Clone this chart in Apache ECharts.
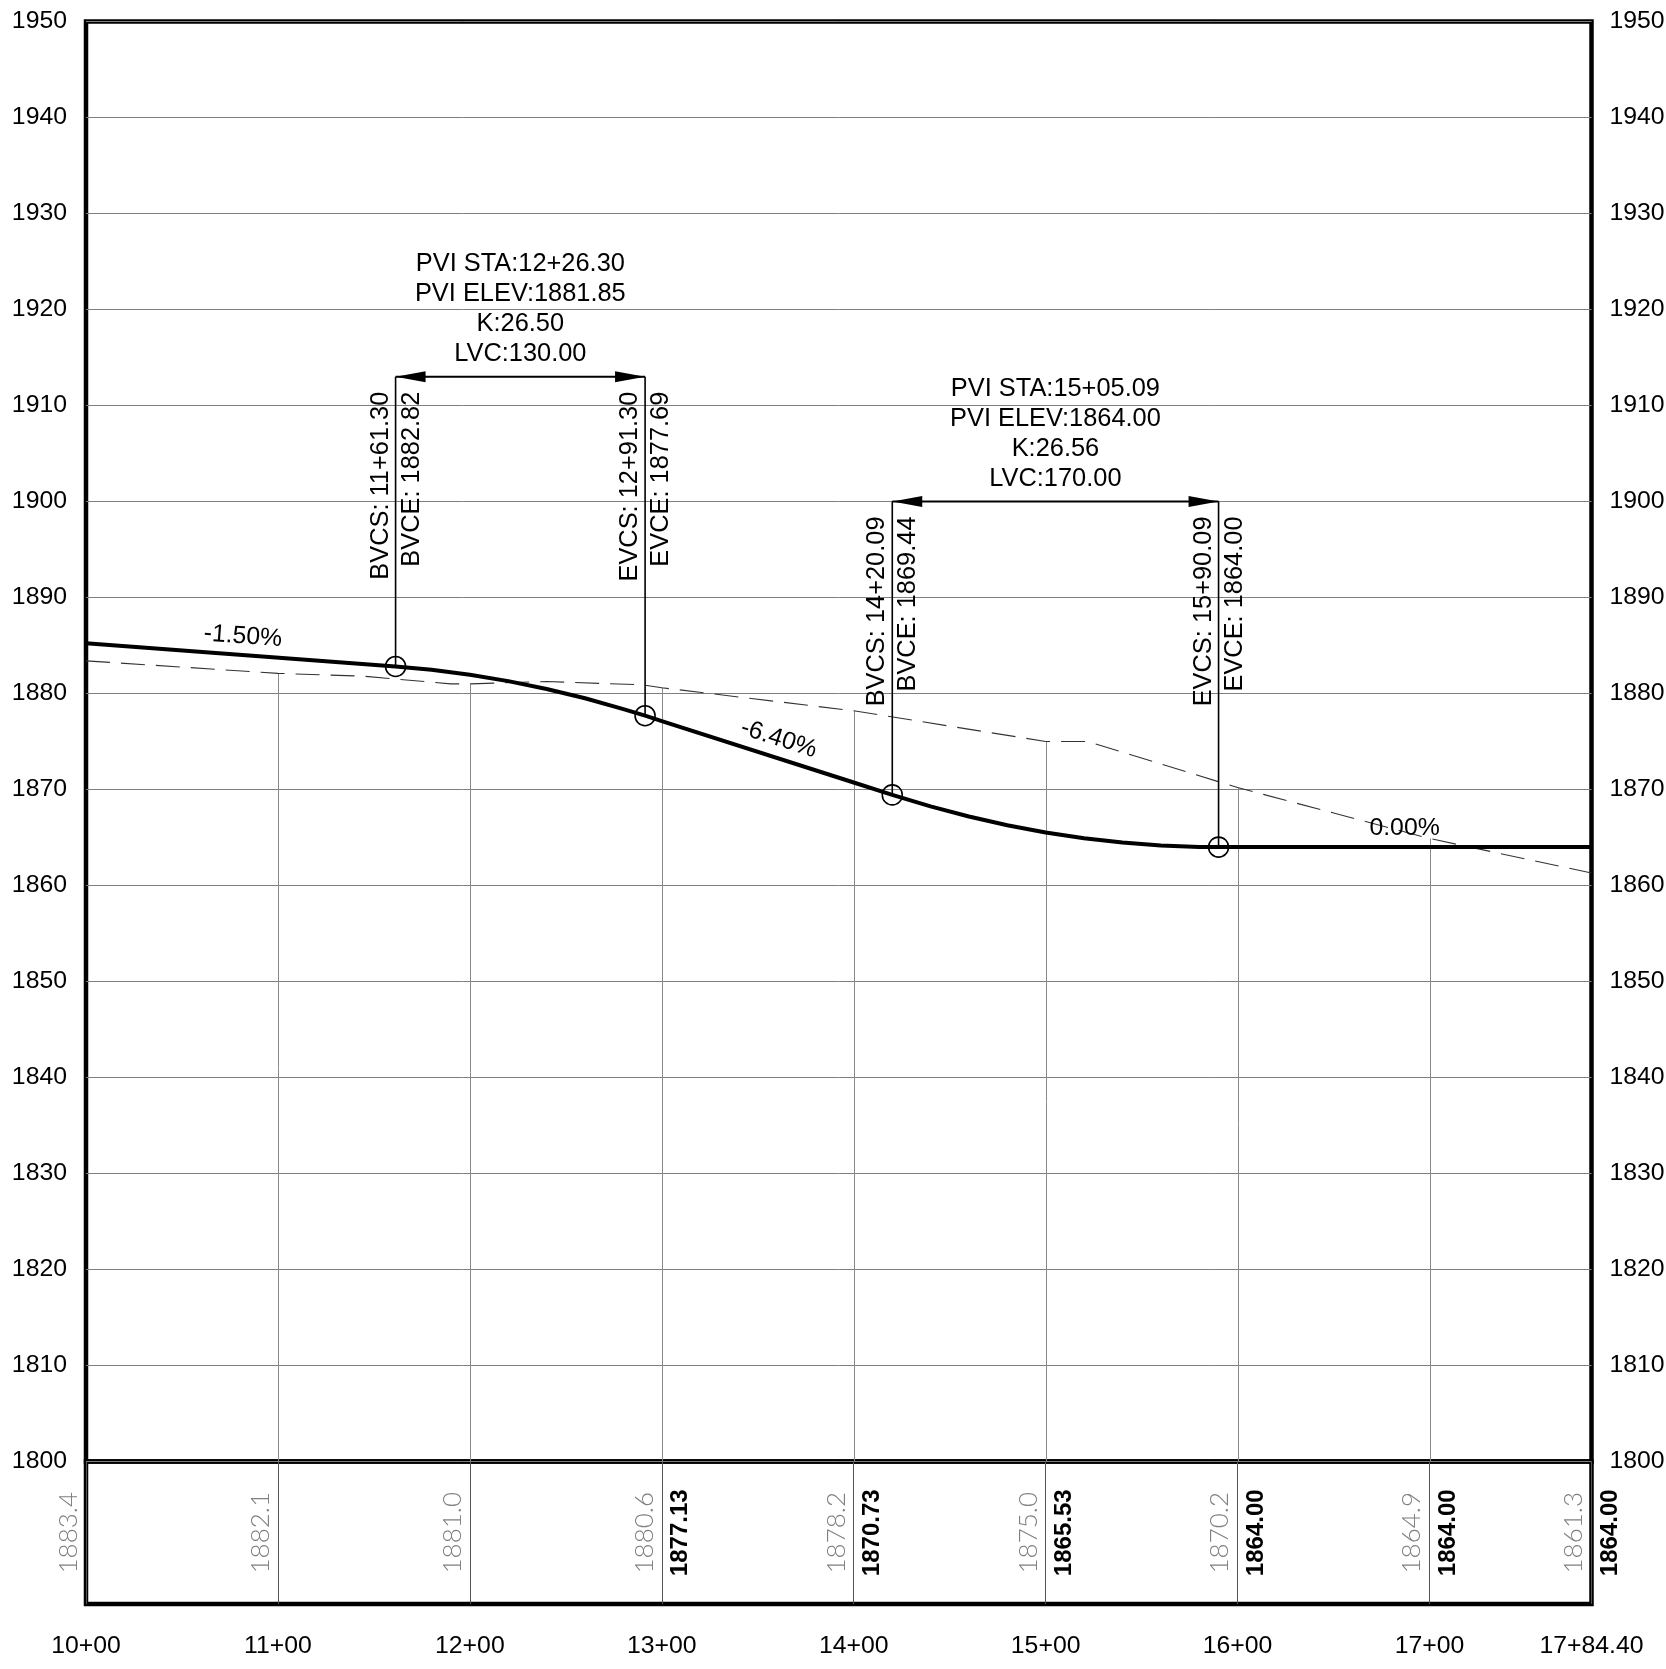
<!DOCTYPE html>
<html>
<head>
<meta charset="utf-8">
<script src="https://cdn.jsdelivr.net/npm/echarts@6/dist/echarts.min.js"></script>
<style>
html,body{margin:0;padding:0;background:#fff;}
#chart{width:1666px;height:1669px;}
</style>
</head>
<body>
<div id="chart"></div>
<script>
// ---------------- DATA ----------------
// station ticks (ft) and band values
const stationTicks = [1000, 1100, 1200, 1300, 1400, 1500, 1600, 1700, 1784.40];
const groundAtStations = [1883.4, 1882.1, 1881.0, 1880.6, 1878.2, 1875.0, 1870.2, 1864.9, 1861.3];
const designLabelStations = [1300, 1400, 1500, 1600, 1700, 1784.40];
const designLabelValues = [1877.13, 1870.73, 1865.53, 1864.00, 1864.00, 1864.00];

// existing ground profile (dashed)
const groundSta  = [1000, 1100, 1145, 1190, 1200, 1240, 1290, 1300, 1400, 1500, 1522, 1600, 1700, 1784.40];
const groundElev = [1883.4, 1882.1, 1881.8, 1881.0, 1881.0, 1881.25, 1880.9, 1880.6, 1878.2, 1875.0, 1875.0, 1870.2, 1864.9, 1861.3];

// design profile (thick)
const designSta  = [1000, 1161.30, 1180, 1200, 1220, 1240, 1260, 1280, 1291.30, 1300, 1400, 1420.09, 1440, 1460, 1480, 1500, 1520, 1540, 1560, 1580, 1590.09, 1600, 1700, 1784.40];
const designElev = [1885.24, 1882.82, 1882.47, 1881.96, 1881.29, 1880.47, 1879.50, 1878.38, 1877.69, 1877.13, 1870.73, 1869.44, 1868.24, 1867.19, 1866.28, 1865.53, 1864.92, 1864.47, 1864.17, 1864.02, 1864.00, 1864.00, 1864.00, 1864.00];

// vertical curves
const curveBVCSta  = [1161.30, 1420.09];
const curveBVCElev = [1882.82, 1869.44];
const curveEVCSta  = [1291.30, 1590.09];
const curveEVCElev = [1877.69, 1864.00];
const curvePVISta  = [1226.30, 1505.09];
const curvePVIElev = [1881.85, 1864.00];
const curveK       = [26.50, 26.56];
const curveLVC     = [130.00, 170.00];
const curveDimElev = [1913, 1900];

// grade labels
const gradeSta   = [1081, 1358, 1687];
const gradeElev  = [1884.02, 1873.43, 1864.00];
const gradePct   = [-1.50, -6.40, 0.00];

// axes
const elevMin = 1800, elevMax = 1950, elevStep = 10;
const staMin = 1000, staMax = 1784.40, staStep = 100;

// ---------------- HELPERS ----------------
const FONT = "'Liberation Sans', Arial, sans-serif";
function fmtSta(v) {
  const whole = Math.floor(v / 100 + 1e-9);
  const rem = v - whole * 100;
  return whole + '+' + rem.toFixed(2).padStart(5, '0');
}
function tickSta(v) {
  const whole = Math.floor(v / 100 + 1e-9);
  const rem = v - whole * 100;
  if (Math.abs(rem) < 1e-6) return whole + '+00';
  return fmtSta(v);
}

const chart = echarts.init(document.getElementById('chart'), null, {renderer: 'canvas'});

const option = {
  animation: false,
  backgroundColor: '#ffffff',
  grid: [
    {left: 86, right: 74.5, top: 21.5, height: 1440, show: true, borderColor: '#000', borderWidth: 4.5, outerBoundsMode: 'none', containLabel: false},
    {left: 86, right: 74.5, top: 1461.5, height: 142.5, show: true, borderColor: '#000', borderWidth: 4.5, outerBoundsMode: 'none', containLabel: false}
  ],
  xAxis: [
    {type: 'value', gridIndex: 0, min: staMin, max: staMax, interval: staStep, show: false},
    {type: 'value', gridIndex: 1, min: staMin, max: staMax, interval: staStep,
      axisLine: {show: false}, axisTick: {show: false},
      splitLine: {show: true, lineStyle: {color: '#555', width: 1}},
      axisLabel: {formatter: tickSta, fontSize: 24.8, color: '#000', fontFamily: FONT, margin: 30, showMinLabel: true, showMaxLabel: true, hideOverlap: false}
    }
  ],
  yAxis: [
    {type: 'value', gridIndex: 0, position: 'left', min: elevMin, max: elevMax, interval: elevStep,
      axisLine: {show: false}, axisTick: {show: false},
      splitLine: {show: true, lineStyle: {color: '#7f7f7f', width: 1}},
      axisLabel: {formatter: v => String(v), fontSize: 24.8, color: '#000', fontFamily: FONT, margin: 19}
    },
    {type: 'value', gridIndex: 0, position: 'right', min: elevMin, max: elevMax, interval: elevStep,
      axisLine: {show: false}, axisTick: {show: false}, splitLine: {show: false},
      axisLabel: {formatter: v => String(v), fontSize: 24.8, color: '#000', fontFamily: FONT, margin: 18}
    },
    {type: 'value', gridIndex: 1, min: 0, max: 1, show: false}
  ],
  series: [
    // station vertical lines from datum up to ground
    {
      type: 'custom', xAxisIndex: 0, yAxisIndex: 0, z: 1, silent: true,
      data: stationTicks.slice(1, -1).map((s, i) => [s, groundAtStations[i + 1]]),
      renderItem: (params, api) => {
        const s = api.value(0), g = api.value(1);
        const p1 = api.coord([s, elevMin]), p2 = api.coord([s, g]);
        const x = Math.round(p1[0]) + 0.5;
        return {type: 'line', shape: {x1: x, y1: p1[1], x2: x, y2: p2[1]}, style: {stroke: '#8a8a8a', lineWidth: 1}};
      }
    },
    // ground profile
    {
      type: 'line', xAxisIndex: 0, yAxisIndex: 0, z: 2, silent: true, symbol: 'none',
      data: groundSta.map((s, i) => [s, groundElev[i]]),
      lineStyle: {color: '#333', width: 1.1, type: [24, 11]}
    },
    // design profile
    {
      type: 'line', xAxisIndex: 0, yAxisIndex: 0, z: 3, silent: true, symbol: 'none',
      data: designSta.map((s, i) => [s, designElev[i]]),
      lineStyle: {color: '#000', width: 4, join: 'round'}
    },
    // grade labels
    {
      type: 'custom', xAxisIndex: 0, yAxisIndex: 0, z: 5, silent: true,
      data: gradeSta.map((s, i) => [s, gradeElev[i]]),
      renderItem: (params, api) => {
        const i = params.dataIndex;
        const s = api.value(0), e = api.value(1), g = gradePct[i];
        const p = api.coord([s, e]);
        const q = api.coord([s + 10, e + g / 100 * 10]);
        const ang = Math.atan2(q[1] - p[1], q[0] - p[0]);
        const off = 18.5;
        return {
          type: 'text', x: p[0] + Math.sin(ang) * off, y: p[1] - Math.cos(ang) * off, rotation: -ang,
          style: {text: g.toFixed(2) + '%', font: '24.8px ' + FONT, fill: '#000', align: 'center', verticalAlign: 'middle'}
        };
      }
    },
    // vertical curve annotations
    {
      type: 'custom', xAxisIndex: 0, yAxisIndex: 0, z: 6, silent: true,
      data: curveBVCSta.map((s, i) => [s, curveBVCElev[i], curveEVCSta[i], curveEVCElev[i], curveDimElev[i]]),
      renderItem: (params, api) => {
        const i = params.dataIndex;
        const bs = api.value(0), be = api.value(1), es = api.value(2), ee = api.value(3), de = api.value(4);
        const pb = api.coord([bs, be]), pe = api.coord([es, ee]);
        const db = api.coord([bs, de]);
        const yd = db[1];
        const xl = pb[0], xr = pe[0];
        const f = '25.4px ' + FONT;
        const lw = 1.6;
        const children = [
          {type: 'line', shape: {x1: xl, y1: pb[1], x2: xl, y2: yd}, style: {stroke: '#000', lineWidth: lw}},
          {type: 'line', shape: {x1: xr, y1: pe[1], x2: xr, y2: yd}, style: {stroke: '#000', lineWidth: lw}},
          {type: 'line', shape: {x1: xl, y1: yd, x2: xr, y2: yd}, style: {stroke: '#000', lineWidth: 2}},
          {type: 'polygon', shape: {points: [[xl, yd], [xl + 30, yd - 5.5], [xl + 30, yd + 5.5]]}, style: {fill: '#000'}},
          {type: 'polygon', shape: {points: [[xr, yd], [xr - 30, yd - 5.5], [xr - 30, yd + 5.5]]}, style: {fill: '#000'}},
          {type: 'circle', shape: {cx: pb[0], cy: pb[1], r: 10}, style: {fill: 'none', stroke: '#000', lineWidth: 1.6}},
          {type: 'circle', shape: {cx: pe[0], cy: pe[1], r: 10}, style: {fill: 'none', stroke: '#000', lineWidth: 1.6}},
          {type: 'text', x: xl - 15, y: yd + 15, rotation: Math.PI / 2,
            style: {text: 'BVCS: ' + fmtSta(bs), font: f, fill: '#000', align: 'right', verticalAlign: 'middle'}},
          {type: 'text', x: xl + 16, y: yd + 15, rotation: Math.PI / 2,
            style: {text: 'BVCE: ' + be.toFixed(2), font: f, fill: '#000', align: 'right', verticalAlign: 'middle'}},
          {type: 'text', x: xr - 15, y: yd + 15, rotation: Math.PI / 2,
            style: {text: 'EVCS: ' + fmtSta(es), font: f, fill: '#000', align: 'right', verticalAlign: 'middle'}},
          {type: 'text', x: xr + 16, y: yd + 15, rotation: Math.PI / 2,
            style: {text: 'EVCE: ' + ee.toFixed(2), font: f, fill: '#000', align: 'right', verticalAlign: 'middle'}},
          {type: 'text', x: (xl + xr) / 2, y: yd - 7.5,
            style: {
              text: 'PVI STA:' + fmtSta(curvePVISta[i]) + '\nPVI ELEV:' + curvePVIElev[i].toFixed(2) +
                    '\nK:' + curveK[i].toFixed(2) + '\nLVC:' + curveLVC[i].toFixed(2),
              font: f, fill: '#000', align: 'center', verticalAlign: 'bottom', lineHeight: 30
            }}
        ];
        return {type: 'group', children: children};
      }
    },
    // band labels: ground (thin gray) left of station line
    {
      type: 'custom', xAxisIndex: 1, yAxisIndex: 2, z: 6, silent: true,
      data: stationTicks.map((s, i) => [s, 0.5, groundAtStations[i]]),
      renderItem: (params, api) => {
        const p = api.coord([api.value(0), api.value(1)]);
        return {
          type: 'text', x: p[0] - 17.5, y: p[1], rotation: Math.PI / 2,
          style: {text: api.value(2).toFixed(1), font: '300 26px Lato, "DejaVu Sans", sans-serif', fill: '#808080', align: 'center', verticalAlign: 'middle'}
        };
      }
    },
    // band labels: design (bold) right of station line
    {
      type: 'custom', xAxisIndex: 1, yAxisIndex: 2, z: 6, silent: true,
      data: designLabelStations.map((s, i) => [s, 0.5, designLabelValues[i]]),
      renderItem: (params, api) => {
        const p = api.coord([api.value(0), api.value(1)]);
        return {
          type: 'text', x: p[0] + 18.5, y: p[1], rotation: Math.PI / 2,
          style: {text: api.value(2).toFixed(2), font: 'bold 24px ' + FONT, fill: '#000', align: 'center', verticalAlign: 'middle'}
        };
      }
    }
  ]
};
chart.setOption(option);
</script>
</body>
</html>
